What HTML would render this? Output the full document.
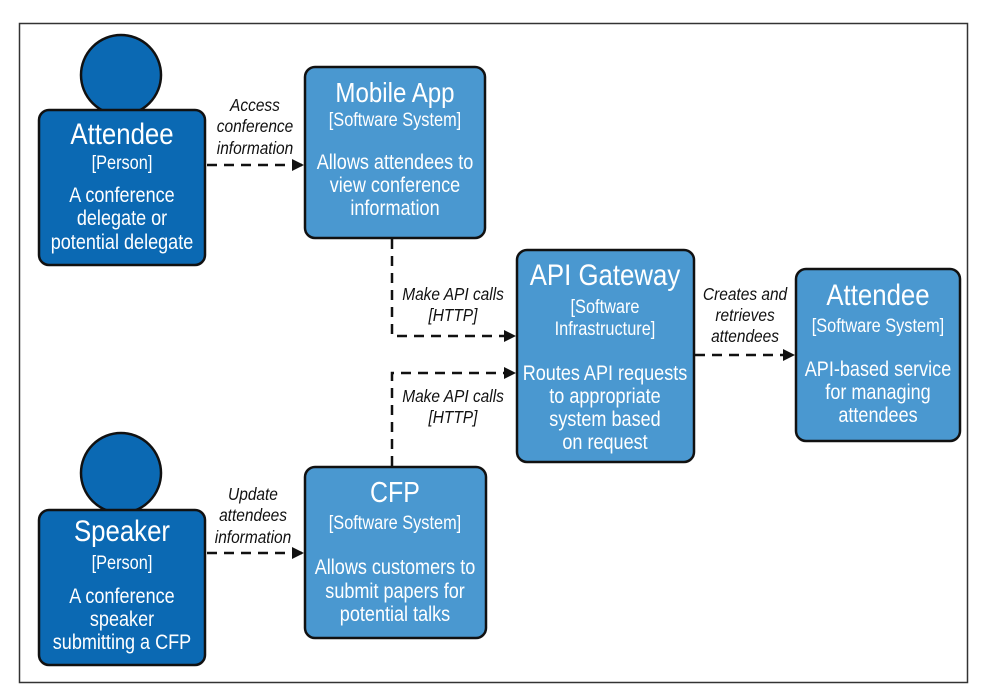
<!DOCTYPE html>
<html><head><meta charset="utf-8"><style>
html,body{margin:0;padding:0;background:#fff;width:993px;height:691px;overflow:hidden}
svg{display:block}
text{transform-box:fill-box;transform-origin:center;transform:scaleX(0.86)}
.w{fill:#fff;font-family:"Liberation Sans",sans-serif;text-anchor:middle}
.l{fill:#111;font-family:"Liberation Sans",sans-serif;font-style:italic;text-anchor:middle;font-size:18px}
.d{stroke:#111;stroke-width:2.5;fill:none;stroke-dasharray:10,7}
</style></head><body>
<svg width="993" height="691" viewBox="0 0 993 691">
<defs><marker id="a" markerWidth="12" markerHeight="12" refX="11" refY="6" orient="auto" markerUnits="userSpaceOnUse"><path d="M0,0 L12,6 L0,12 z" fill="#111"/></marker></defs>
<rect x="19.5" y="23.5" width="948" height="659" fill="none" stroke="#333" stroke-width="1.5"/>

<circle cx="121" cy="75" r="40" fill="#0b69b3" stroke="#111" stroke-width="2.5"/>
<rect x="39" y="110" width="166" height="155" rx="10" fill="#0b69b3" stroke="#111" stroke-width="2.5"/>
<text class="w" x="122" y="144" font-size="30">Attendee</text>
<text class="w" x="122" y="169" font-size="19">[Person]</text>
<text class="w" x="122" y="202" font-size="21">A conference</text>
<text class="w" x="122" y="225" font-size="21">delegate or</text>
<text class="w" x="122" y="249" font-size="21">potential delegate</text>

<circle cx="121" cy="473" r="40" fill="#0b69b3" stroke="#111" stroke-width="2.5"/>
<rect x="39" y="510" width="166" height="155" rx="10" fill="#0b69b3" stroke="#111" stroke-width="2.5"/>
<text class="w" x="122" y="541" font-size="30">Speaker</text>
<text class="w" x="122" y="569" font-size="19">[Person]</text>
<text class="w" x="122" y="603" font-size="21">A conference</text>
<text class="w" x="122" y="626" font-size="21">speaker</text>
<text class="w" x="122" y="649" font-size="21">submitting a CFP</text>

<rect x="305" y="67" width="180" height="171" rx="10" fill="#4a98d0" stroke="#111" stroke-width="2.5"/>
<text class="w" x="395" y="102" font-size="28">Mobile App</text>
<text class="w" x="395" y="126" font-size="19">[Software System]</text>
<text class="w" x="395" y="169" font-size="21">Allows attendees to</text>
<text class="w" x="395" y="192" font-size="21">view conference</text>
<text class="w" x="395" y="215" font-size="21">information</text>

<rect x="305" y="467" width="181" height="171" rx="10" fill="#4a98d0" stroke="#111" stroke-width="2.5"/>
<text class="w" x="395" y="502" font-size="29">CFP</text>
<text class="w" x="395" y="529" font-size="19">[Software System]</text>
<text class="w" x="395" y="574" font-size="21">Allows customers to</text>
<text class="w" x="395" y="598" font-size="21">submit papers for</text>
<text class="w" x="395" y="621" font-size="21">potential talks</text>

<rect x="517" y="250" width="177" height="212" rx="10" fill="#4a98d0" stroke="#111" stroke-width="2.5"/>
<text class="w" x="605" y="285" font-size="30">API Gateway</text>
<text class="w" x="605" y="313" font-size="19">[Software</text>
<text class="w" x="605" y="335" font-size="19">Infrastructure]</text>
<text class="w" x="605" y="380" font-size="21">Routes API requests</text>
<text class="w" x="605" y="403" font-size="21">to appropriate</text>
<text class="w" x="605" y="426" font-size="21">system based</text>
<text class="w" x="605" y="449" font-size="21">on request</text>

<rect x="796" y="269" width="164" height="172" rx="10" fill="#4a98d0" stroke="#111" stroke-width="2.5"/>
<text class="w" x="878" y="305" font-size="30">Attendee</text>
<text class="w" x="878" y="332" font-size="19">[Software System]</text>
<text class="w" x="878" y="376" font-size="21">API-based service</text>
<text class="w" x="878" y="399" font-size="21">for managing</text>
<text class="w" x="878" y="422" font-size="21">attendees</text>

<path class="d" d="M207,165 L303,165" marker-end="url(#a)"/>
<path class="d" d="M207,553 L303,553" marker-end="url(#a)"/>
<path class="d" d="M392,239 L392,336 L515,336" marker-end="url(#a)"/>
<path class="d" d="M392,466 L392,373 L515,373" marker-end="url(#a)"/>
<path class="d" d="M695,355 L794,355" marker-end="url(#a)"/>

<text class="l" x="255" y="111">Access</text>
<text class="l" x="255" y="132">conference</text>
<text class="l" x="255" y="154">information</text>
<text class="l" x="253" y="500">Update</text>
<text class="l" x="253" y="521">attendees</text>
<text class="l" x="253" y="543">information</text>
<text class="l" x="453" y="300">Make API calls</text>
<text class="l" x="453" y="321">[HTTP]</text>
<text class="l" x="453" y="402">Make API calls</text>
<text class="l" x="453" y="423">[HTTP]</text>
<text class="l" x="745" y="300">Creates and</text>
<text class="l" x="745" y="321">retrieves</text>
<text class="l" x="745" y="342">attendees</text>
</svg>
</body></html>
